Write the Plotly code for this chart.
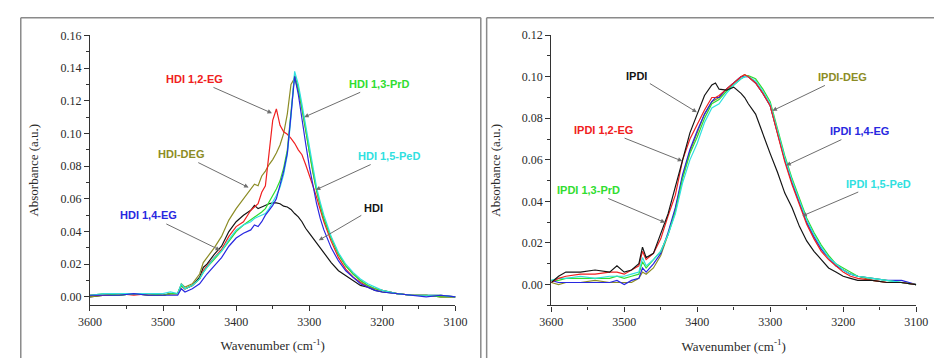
import plotly.graph_objects as go

W, H = 946, 358

# ---------------- Left panel (HDI series) ----------------
wn_left = [3600, 3580, 3560, 3540, 3520, 3500, 3490, 3480, 3475, 3470, 3460, 3450, 3445, 3440,
           3430, 3420, 3410, 3400, 3390, 3380, 3375, 3370, 3365, 3360, 3355, 3350, 3345, 3340,
           3335, 3330, 3325, 3320, 3315, 3310, 3305, 3300, 3295, 3290, 3285, 3280, 3270, 3260,
           3250, 3240, 3230, 3220, 3210, 3200, 3180, 3160, 3140, 3120, 3100]

hdi = [0.000, 0.001, 0.001, 0.002, 0.001, 0.001, 0.002, 0.002, 0.007, 0.005, 0.007, 0.012, 0.018, 0.020,
       0.026, 0.031, 0.040, 0.046, 0.050, 0.053, 0.056, 0.054, 0.055, 0.056, 0.057, 0.0575, 0.0575, 0.057,
       0.0555, 0.055, 0.0535, 0.051, 0.049, 0.046, 0.042, 0.039, 0.036, 0.033, 0.030, 0.027, 0.021, 0.016,
       0.013, 0.010, 0.007, 0.006, 0.004, 0.003, 0.002, 0.001, 0.001, 0.001, 0.000]

hdi_12eg = [0.001, 0.001, 0.002, 0.001, 0.002, 0.001, 0.002, 0.002, 0.007, 0.005, 0.007, 0.011, 0.016, 0.019,
            0.024, 0.029, 0.037, 0.043, 0.046, 0.053, 0.055, 0.057, 0.064, 0.068, 0.088, 0.108, 0.115, 0.105,
            0.101, 0.0995, 0.097, 0.094, 0.090, 0.087, 0.081, 0.075, 0.068, 0.061, 0.053, 0.046, 0.034, 0.024,
            0.017, 0.012, 0.009, 0.006, 0.005, 0.004, 0.002, 0.001, 0.001, 0.000, 0.000]

hdi_13prd = [0.001, 0.002, 0.001, 0.002, 0.002, 0.001, 0.002, 0.002, 0.007, 0.005, 0.007, 0.011, 0.015, 0.018,
             0.023, 0.028, 0.034, 0.040, 0.044, 0.047, 0.049, 0.050, 0.052, 0.054, 0.058, 0.062, 0.066, 0.071,
             0.079, 0.090, 0.115, 0.136, 0.128, 0.116, 0.103, 0.089, 0.077, 0.065, 0.056, 0.048, 0.036, 0.026,
             0.019, 0.014, 0.010, 0.007, 0.005, 0.004, 0.002, 0.001, 0.001, 0.000, 0.000]

hdi_15ped = [0.001, 0.002, 0.002, 0.002, 0.002, 0.002, 0.003, 0.002, 0.008, 0.005, 0.007, 0.011, 0.015, 0.018,
             0.024, 0.028, 0.035, 0.041, 0.044, 0.046, 0.048, 0.049, 0.050, 0.051, 0.054, 0.058, 0.062, 0.067,
             0.075, 0.087, 0.110, 0.138, 0.130, 0.118, 0.105, 0.091, 0.079, 0.067, 0.058, 0.050, 0.037, 0.027,
             0.020, 0.015, 0.011, 0.008, 0.006, 0.004, 0.002, 0.001, 0.001, 0.001, 0.000]

hdi_14eg = [0.001, 0.001, 0.001, 0.002, 0.001, 0.001, 0.001, 0.001, 0.005, 0.003, 0.005, 0.008, 0.011, 0.014,
            0.019, 0.024, 0.031, 0.036, 0.039, 0.041, 0.044, 0.043, 0.046, 0.050, 0.053, 0.056, 0.060, 0.068,
            0.077, 0.088, 0.110, 0.135, 0.124, 0.108, 0.094, 0.080, 0.068, 0.057, 0.048, 0.041, 0.030, 0.022,
            0.016, 0.012, 0.008, 0.006, 0.004, 0.003, 0.002, 0.001, 0.000, 0.001, 0.000]

hdi_deg = [0.000, 0.001, 0.001, 0.002, 0.001, 0.001, 0.002, 0.002, 0.008, 0.006, 0.008, 0.014, 0.021, 0.024,
           0.030, 0.037, 0.047, 0.054, 0.060, 0.066, 0.069, 0.068, 0.074, 0.077, 0.081, 0.084, 0.088, 0.093,
           0.100, 0.112, 0.130, 0.134, 0.126, 0.115, 0.102, 0.088, 0.076, 0.065, 0.056, 0.048, 0.036, 0.026,
           0.019, 0.014, 0.010, 0.007, 0.005, 0.004, 0.002, 0.001, 0.001, 0.000, 0.000]

# ---------------- Right panel (IPDI series) ----------------
wn_right = [3600, 3590, 3580, 3560, 3540, 3520, 3510, 3500, 3490, 3480, 3475, 3470, 3460, 3450, 3440,
            3430, 3420, 3410, 3400, 3390, 3380, 3375, 3370, 3360, 3350, 3340, 3335, 3330, 3320, 3310,
            3300, 3290, 3280, 3270, 3260, 3250, 3240, 3230, 3220, 3210, 3200, 3190, 3180, 3160, 3140,
            3120, 3100]

ipdi = [0.001, 0.004, 0.006, 0.006, 0.007, 0.006, 0.009, 0.006, 0.007, 0.010, 0.018, 0.013, 0.015, 0.025, 0.034,
        0.047, 0.060, 0.073, 0.082, 0.091, 0.096, 0.097, 0.094, 0.0935, 0.095, 0.092, 0.090, 0.087, 0.082, 0.072,
        0.063, 0.054, 0.044, 0.037, 0.028, 0.021, 0.016, 0.012, 0.008, 0.006, 0.004, 0.003, 0.002, 0.002, 0.001,
        0.001, 0.000]

ipdi_12eg = [0.001, 0.003, 0.004, 0.005, 0.005, 0.006, 0.006, 0.005, 0.007, 0.009, 0.016, 0.012, 0.015, 0.022, 0.033,
             0.043, 0.060, 0.070, 0.077, 0.084, 0.090, 0.090, 0.091, 0.094, 0.097, 0.100, 0.101, 0.100, 0.097, 0.092,
             0.086, 0.072, 0.059, 0.048, 0.038, 0.029, 0.022, 0.016, 0.012, 0.009, 0.006, 0.004, 0.003, 0.002, 0.001,
             0.001, 0.000]

ipdi_13prd = [0.002, 0.002, 0.003, 0.003, 0.003, 0.003, 0.004, 0.003, 0.004, 0.005, 0.011, 0.008, 0.012, 0.016, 0.024,
              0.035, 0.051, 0.063, 0.071, 0.080, 0.087, 0.088, 0.089, 0.093, 0.096, 0.099, 0.100, 0.1005, 0.099, 0.094,
              0.088, 0.075, 0.062, 0.051, 0.041, 0.032, 0.025, 0.019, 0.014, 0.010, 0.008, 0.006, 0.004, 0.003, 0.002,
              0.001, 0.000]

ipdi_15ped = [0.002, 0.003, 0.003, 0.004, 0.003, 0.004, 0.004, 0.004, 0.005, 0.006, 0.013, 0.009, 0.012, 0.016, 0.024,
              0.034, 0.049, 0.060, 0.068, 0.078, 0.085, 0.086, 0.087, 0.092, 0.096, 0.099, 0.100, 0.100, 0.098, 0.093,
              0.087, 0.074, 0.061, 0.050, 0.040, 0.031, 0.024, 0.018, 0.013, 0.010, 0.007, 0.005, 0.004, 0.003, 0.002,
              0.001, 0.000]

ipdi_14eg = [0.002, 0.001, 0.001, 0.001, 0.001, 0.001, 0.002, 0.000, 0.002, 0.003, 0.008, 0.006, 0.010, 0.015, 0.025,
             0.037, 0.053, 0.065, 0.074, 0.082, 0.088, 0.090, 0.090, 0.094, 0.097, 0.100, 0.100, 0.100, 0.097, 0.092,
             0.086, 0.073, 0.060, 0.049, 0.039, 0.030, 0.023, 0.017, 0.013, 0.009, 0.007, 0.005, 0.004, 0.003, 0.002,
             0.002, 0.000]

ipdi_deg = [0.001, 0.000, 0.001, 0.001, 0.002, 0.001, 0.001, 0.001, 0.001, 0.003, 0.006, 0.005, 0.008, 0.014, 0.024,
            0.036, 0.052, 0.064, 0.073, 0.082, 0.088, 0.089, 0.090, 0.094, 0.097, 0.100, 0.101, 0.100, 0.097, 0.092,
            0.086, 0.073, 0.060, 0.049, 0.039, 0.030, 0.023, 0.017, 0.013, 0.009, 0.007, 0.005, 0.004, 0.002, 0.001,
            0.001, 0.000]

x_ticks = [3600, 3500, 3400, 3300, 3200, 3100]
x_title = "Wavenumber (cm<sup>-1</sup>)"
y_title = "Absorbance (a.u.)"

C_BLACK = "#151515"
C_RED = "#f02020"
C_GREEN = "#30dd30"
C_CYAN = "#30e0e0"
C_BLUE = "#2828e0"
C_OLIVE = "#8c8c25"

left_series = [
    ("HDI", hdi, C_BLACK),
    ("HDI-DEG", hdi_deg, C_OLIVE),
    ("HDI 1,2-EG", hdi_12eg, C_RED),
    ("HDI 1,3-PrD", hdi_13prd, C_GREEN),
    ("HDI 1,5-PeD", hdi_15ped, C_CYAN),
    ("HDI 1,4-EG", hdi_14eg, C_BLUE),
]
right_series = [
    ("IPDI-DEG", ipdi_deg, C_OLIVE),
    ("IPDI 1,4-EG", ipdi_14eg, C_BLUE),
    ("IPDI 1,3-PrD", ipdi_13prd, C_GREEN),
    ("IPDI 1,5-PeD", ipdi_15ped, C_CYAN),
    ("IPDI 1,2-EG", ipdi_12eg, C_RED),
    ("IPDI", ipdi, C_BLACK),
]

fig = go.Figure()
for name, ys, col in left_series:
    fig.add_trace(go.Scatter(x=wn_left, y=ys, mode="lines", name=name,
                             line=dict(color=col, width=1.2), xaxis="x", yaxis="y"))
for name, ys, col in right_series:
    fig.add_trace(go.Scatter(x=wn_right, y=ys, mode="lines", name=name,
                             line=dict(color=col, width=1.2), xaxis="x2", yaxis="y2"))

def px_x(p):
    return p / W

def px_y(p):
    return 1 - p / H

SERIF = "Times New Roman, Liberation Serif, DejaVu Serif, serif"
tick_font = dict(family=SERIF, size=12, color="#2a2a2a")
title_font = dict(family=SERIF, size=13, color="#2a2a2a")
axis_common = dict(showline=True, linecolor="#333", linewidth=1.3, ticks="outside", ticklen=5,
                   tickwidth=1.2, tickcolor="#333", showgrid=False, zeroline=False,
                   tickfont=tick_font)
xminor = dict(ticks="outside", ticklen=3, dtick=50, tick0=3100, tickcolor="#333")
yminor = dict(ticks="outside", ticklen=3, dtick=0.01, tick0=0, tickcolor="#333")
xt = dict(text=x_title, font=title_font, standoff=13)
yt = dict(text=y_title, font=title_font, standoff=18)

fig.update_layout(
    width=W, height=H, margin=dict(l=0, r=0, t=0, b=0),
    paper_bgcolor="white", plot_bgcolor="white", showlegend=False,
    font=dict(family=SERIF),
    xaxis=dict(domain=[px_x(80), px_x(455)], range=[3600, 3100], tickvals=x_ticks,
               minor=xminor, anchor="y", title=xt, **axis_common),
    yaxis=dict(domain=[px_y(304), px_y(29)], range=[-0.005, 0.16], dtick=0.02, tick0=0,
               tickformat=".2f", minor=yminor, anchor="x", title=yt, **axis_common),
    xaxis2=dict(domain=[px_x(553.3), px_x(927.7)], range=[3600, 3100], tickvals=x_ticks,
                minor=xminor, anchor="y2", title=xt, **axis_common),
    yaxis2=dict(domain=[px_y(304.3), px_y(28.7)], range=[-0.01, 0.12], dtick=0.02, tick0=0,
                tickformat=".2f", minor=yminor, anchor="x2", title=yt, **axis_common),
)

# panel borders
border = dict(color="#8a8a8a", width=1.5)
for (x0, y0, x1, y1) in [(9, 11, 481, 11), (9, 11, 9, 358), (481, 11, 481, 358),
                         (487, 11, 946, 11), (487, 11, 487, 358)]:
    fig.add_shape(type="line", xref="paper", yref="paper",
                  x0=px_x(x0), y0=px_y(y0), x1=px_x(x1), y1=px_y(y1), line=border)

label_font = "Liberation Sans, Arial, sans-serif"
# (text, color, label center px, arrow tip data (wn, A), axis)
labels = [
    ("HDI 1,2-EG", C_RED, (189, 74), (3351, 0.1124), "1"),
    ("HDI 1,3-PrD", C_GREEN, (375, 79), (3307, 0.110), "1"),
    ("HDI-DEG", C_OLIVE, (175.3, 150.7), (3383, 0.0669), "1"),
    ("HDI 1,5-PeD", C_CYAN, (385, 152.7), (3291, 0.0655), "1"),
    ("HDI 1,4-EG", C_BLUE, (142.3, 213.3), (3422, 0.0286), "1"),
    ("HDI", C_BLACK, (369.3, 206), (3287, 0.0346), "1"),
    ("IPDI", C_BLACK, (642.7, 70.7), (3400.5, 0.0829), "2"),
    ("IPDI-DEG", C_OLIVE, (850.3, 72), (3297, 0.0836), "2"),
    ("IPDI 1,2-EG", C_RED, (608.7, 125.7), (3420.5, 0.0594), "2"),
    ("IPDI 1,4-EG", C_BLUE, (867.7, 127.3), (3278, 0.0573), "2"),
    ("IPDI 1,3-PrD", C_GREEN, (593.3, 187.3), (3444, 0.0298), "2"),
    ("IPDI 1,5-PeD", C_CYAN, (886.7, 180.7), (3256, 0.033), "2"),
]

axmap = {"1": (80, 455, 3600, 3100, 304, 29, -0.005, 0.16),
         "2": (553.3, 927.7, 3600, 3100, 304.3, 28.7, -0.01, 0.12)}

annos = []
for text, col, (lx, ly), (tw, ta), ax in labels:
    xa, xb, wa, wb, ya, yb, aa, ab = axmap[ax]
    tip_px = xa + (wa - tw) / (wa - wb) * (xb - xa)
    tip_py = ya - (ta - aa) / (ab - aa) * (ya - yb)
    xr = "x" if ax == "1" else "x2"
    yr = "y" if ax == "1" else "y2"
    annos.append(dict(xref=xr, yref=yr, x=tw, y=ta, ax=lx - tip_px, ay=ly - tip_py,
                      text="<b>" + text + "</b>",
                      font=dict(family=label_font, size=11, color=col),
                      showarrow=True, arrowhead=2, arrowsize=0.9, arrowwidth=1,
                      arrowcolor="#6e6e6e", standoff=0, borderpad=2))

fig.update_layout(annotations=annos)
fig.write_html("out.html")
